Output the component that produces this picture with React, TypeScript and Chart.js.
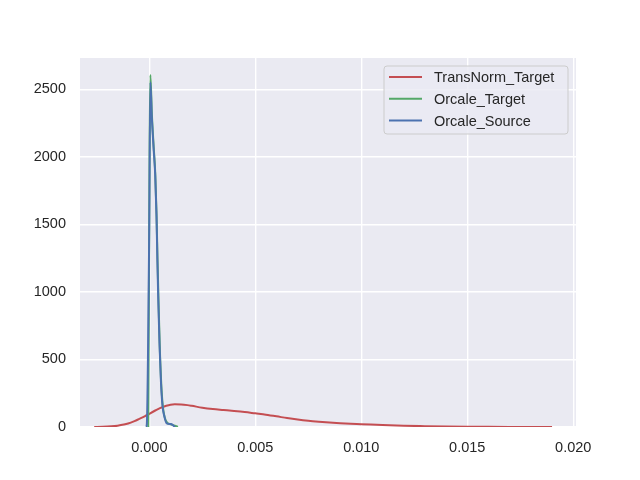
import React, { useEffect, useRef } from "react";
import { Chart, registerables } from "chart.js";

Chart.register(...registerables);

const seriesLabels = ["TransNorm_Target", "Orcale_Target", "Orcale_Source"];
const seriesColors = ["#C44E52", "#55A868", "#4C72B0"];

const redX = [-0.0026, -0.0022, -0.0018, -0.0015, -0.0012, -0.001, -0.0007, -0.0005, -0.0002, 0, 0.0003, 0.0005, 0.0008, 0.001, 0.0012, 0.0015, 0.0018, 0.002, 0.0025, 0.003, 0.0035, 0.004, 0.0045, 0.005, 0.0055, 0.006, 0.0065, 0.007, 0.0075, 0.008, 0.0085, 0.009, 0.0095, 0.01, 0.011, 0.012, 0.013, 0.014, 0.015, 0.016, 0.017, 0.018, 0.019];
const redY = [0, 1.5, 5, 10, 18, 26, 44, 58, 80, 98, 124, 140, 157, 165, 168, 167, 162, 157, 143, 133, 126, 119, 111, 101, 91, 79, 66, 55, 46, 39, 33, 28, 24, 21, 14, 9, 6, 3.5, 2, 1.2, 0.6, 0.3, 0.1];

const greenX = [-0.00005, 0.00005, 0.00012, 0.0002, 0.00028, 0.00034, 0.00039, 0.00044, 0.0005, 0.00057, 0.00064, 0.00072, 0.00085, 0.001, 0.0012, 0.00135];
const greenY = [0, 2607, 2320, 2090, 1880, 1580, 1220, 900, 560, 300, 150, 75, 30, 20, 10, 0];

const blueX = [-0.00016, -0.00012, -0.00001, 0.00005, 0.00012, 0.0002, 0.00028, 0.00034, 0.00038, 0.00042, 0.00048, 0.00055, 0.00062, 0.0007, 0.00082, 0.00102, 0.00121];
const blueY = [0, 15, 1348, 2553, 2290, 2070, 1860, 1560, 1240, 960, 620, 330, 160, 85, 27, 22, 0];

const xTicks = [0, 0.005, 0.01, 0.015, 0.02];
const yTicks = [0, 500, 1000, 1500, 2000, 2500];

const xMin = -0.00327;
const xMax = 0.02013;
const yMin = 0;
const yMax = 2733;

const toPoints = (xs: number[], ys: number[]) => xs.map((x, i) => ({ x, y: ys[i] }));

const FONT = "'Liberation Sans', Arial, sans-serif";

export default function App() {
  const ref = useRef<HTMLCanvasElement | null>(null);
  useEffect(() => {
    if (!ref.current) return;
    const bgPlugin = {
      id: "bg",
      beforeDraw(chart: any) {
        const { ctx, chartArea: a } = chart;
        ctx.save();
        ctx.fillStyle = "#EAEAF2";
        ctx.fillRect(a.left, a.top, a.right - a.left, a.bottom - a.top);
        ctx.restore();
      },
    };
    const legendPlugin = {
      id: "customLegend",
      afterDraw(chart: any) {
        const { ctx, chartArea: a } = chart;
        const right = a.right - 8;
        const left = right - 184;
        const top = a.top + 8;
        const h = 68;
        ctx.save();
        ctx.beginPath();
        const r = 3;
        ctx.moveTo(left + r, top);
        ctx.lineTo(right - r, top);
        ctx.arcTo(right, top, right, top + r, r);
        ctx.lineTo(right, top + h - r);
        ctx.arcTo(right, top + h, right - r, top + h, r);
        ctx.lineTo(left + r, top + h);
        ctx.arcTo(left, top + h, left, top + h - r, r);
        ctx.lineTo(left, top + r);
        ctx.arcTo(left, top, left + r, top, r);
        ctx.closePath();
        ctx.fillStyle = "rgba(234,234,242,0.8)";
        ctx.fill();
        ctx.strokeStyle = "#CCCCCC";
        ctx.lineWidth = 1;
        ctx.stroke();
        ctx.font = `14.5px ${FONT}`;
        ctx.textBaseline = "middle";
        ctx.textAlign = "left";
        chart.data.datasets.forEach((ds: any, i: number) => {
          const y = top + 11 + i * 21.8;
          ctx.beginPath();
          ctx.strokeStyle = ds.borderColor;
          ctx.lineWidth = 2;
          ctx.moveTo(left + 5, y);
          ctx.lineTo(left + 38, y);
          ctx.stroke();
          ctx.fillStyle = "#262626";
          ctx.fillText(ds.label, left + 50, y + 1);
        });
        ctx.restore();
      },
    };
    const chart = new Chart(ref.current, {
      type: "line",
      data: {
        datasets: [
          { label: seriesLabels[0], order: 2, data: toPoints(redX, redY), borderColor: seriesColors[0], backgroundColor: seriesColors[0], borderWidth: 2, pointRadius: 0, tension: 0.4, cubicInterpolationMode: "monotone", fill: false },
          { label: seriesLabels[1], order: 1, data: toPoints(greenX, greenY), borderColor: seriesColors[1], backgroundColor: seriesColors[1], borderWidth: 2, pointRadius: 0, tension: 0.4, cubicInterpolationMode: "monotone", fill: false },
          { label: seriesLabels[2], order: 0, data: toPoints(blueX, blueY), borderColor: seriesColors[2], backgroundColor: seriesColors[2], borderWidth: 2, pointRadius: 0, tension: 0.4, cubicInterpolationMode: "monotone", fill: false },
        ],
      },
      options: {
        responsive: false,
        animation: false,
        layout: { padding: { top: 58, right: 64, left: 0, bottom: 0 } },
        plugins: { legend: { display: false }, tooltip: { enabled: false } },
        scales: {
          x: {
            type: "linear",
            min: xMin,
            max: xMax,
            border: { display: false },
            grid: { color: "#FFFFFF", lineWidth: 1.4, drawTicks: false },
            afterBuildTicks: (s: any) => { s.ticks = xTicks.map((v) => ({ value: v })); },
            afterFit: (s: any) => { s.height = 53; },
            ticks: { color: "#262626", font: { family: FONT, size: 14.5 }, padding: 12, maxRotation: 0, callback: (v: any) => Number(v).toFixed(3) },
          },
          y: {
            type: "linear",
            min: yMin,
            max: yMax,
            border: { display: false },
            grid: { color: "#FFFFFF", lineWidth: 1.4, drawTicks: false },
            afterBuildTicks: (s: any) => { s.ticks = yTicks.map((v) => ({ value: v })); },
            afterFit: (s: any) => { s.width = 80; },
            ticks: { color: "#262626", font: { family: FONT, size: 14.5 }, padding: 14, callback: (v: any) => String(v) },
          },
        },
      },
      plugins: [bgPlugin, legendPlugin],
    } as any);
    return () => chart.destroy();
  }, []);
  return (
    <div style={{ position: "fixed", left: 0, top: 0, width: 640, height: 480, background: "#FFFFFF" }}>
      <canvas ref={ref} width={640} height={480} style={{ width: 640, height: 480, display: "block" }} />
    </div>
  );
}
